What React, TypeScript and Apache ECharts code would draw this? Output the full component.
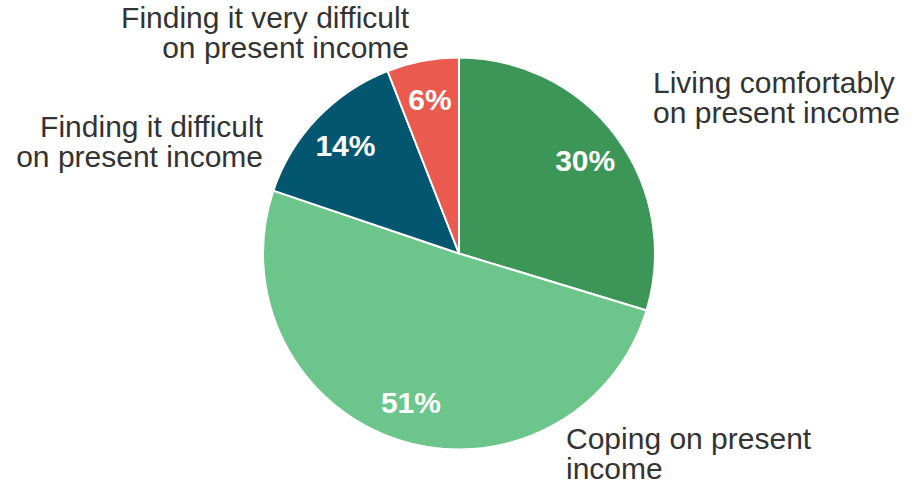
import React, { useEffect, useRef } from "react";
import * as echarts from "echarts";

const categories = [
  "Living comfortably\non present income",
  "Coping on present\nincome",
  "Finding it difficult\non present income",
  "Finding it very difficult\non present income",
];
const values = [30, 51, 14, 6];
const colors = ["#3b9657", "#6cc58a", "#03566f", "#eb5a4f"];

// outside label anchor (x, y, align) per slice
const labelAnchors: [number, number, string][] = [
  [653, 97, "left"],
  [566, 453, "left"],
  [263, 141, "right"],
  [409, 32, "right"],
];

export default function App() {
  const ref = useRef<HTMLDivElement>(null);
  useEffect(() => {
    document.body.style.margin = "0";
    const chart = echarts.init(ref.current!, undefined, { renderer: "svg" });
    const data = categories.map((name, i) => ({
      name,
      value: values[i],
      itemStyle: { color: colors[i] },
    }));
    chart.setOption({
      animation: false,
      series: [
        {
          type: "pie",
          center: [459, 253.5],
          radius: [0, 196],
          startAngle: 90,
          clockwise: true,
          silent: true,
          data,
          itemStyle: { borderColor: "#fff", borderWidth: 2 },
          label: {
            show: true,
            position: "outside",
            formatter: "{b}",
            fontFamily: "Liberation Sans, Arial, sans-serif",
            fontSize: 30,
            lineHeight: 30,
            overflow: "none",
            color: "#333333",
          },
          labelLine: { show: false },
          labelLayout: (p: any) => {
            const a = labelAnchors[p.dataIndex];
            return { x: a[0], y: a[1], align: a[2], verticalAlign: "middle", hideOverlap: false };
          },
        },
        {
          type: "pie",
          center: [459, 253.5],
          radius: [112, 196],
          startAngle: 90,
          clockwise: true,
          silent: true,
          data: categories.map((name, i) => ({ name, value: values[i] })),
          itemStyle: { color: "rgba(0,0,0,0)" },
          label: {
            show: true,
            position: "inside",
            formatter: (p: any) => p.value + "%",
            fontFamily: "Liberation Sans, Arial, sans-serif",
            fontWeight: "bold",
            fontSize: 30,
            color: "#ffffff",
          },
          labelLine: { show: false },
        },
      ],
    });
    return () => chart.dispose();
  }, []);
  return <div ref={ref} style={{ width: 912, height: 484 }} />;
}
